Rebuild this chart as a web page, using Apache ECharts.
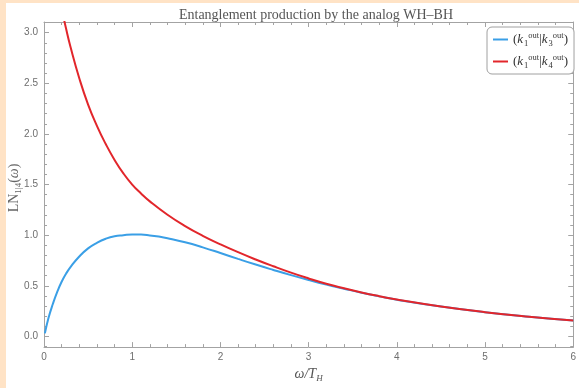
<!DOCTYPE html>
<html>
<head>
<meta charset="utf-8">
<script src="https://cdn.jsdelivr.net/npm/echarts@6/dist/echarts.min.js"></script>
<style>
html,body{margin:0;padding:0;background:#fff;}
#chart{width:579px;height:388px;}
</style>
</head>
<body>
<div id="chart"></div>
<script>
// ---- data ----
const titleText = 'Entanglement production by the analog WH\u2013BH';
const seriesNames = ['(k1|k3)', '(k1|k4)'];
const xTicks = [0, 1, 2, 3, 4, 5, 6];
const yTicks = [0, 0.5, 1, 1.5, 2, 2.5, 3];
const yMinorTicks = [-0.1, 0.1, 0.2, 0.3, 0.4, 0.6, 0.7, 0.8, 0.9, 1.1, 1.2, 1.3, 1.4, 1.6, 1.7, 1.8, 1.9, 2.1, 2.2, 2.3, 2.4, 2.6, 2.7, 2.8, 2.9, 3.1];

const blueX = [0.01, 0.05, 0.1, 0.15, 0.2, 0.25, 0.3, 0.4, 0.5, 0.6, 0.7, 0.8, 0.9, 1.0, 1.1, 1.2, 1.3, 1.4, 1.6, 1.8, 2.0, 2.2, 2.4, 2.6, 2.8, 3.0, 3.2, 3.4, 3.6, 3.8, 4.0, 4.5, 5.0, 5.5, 6.0];
const blueY = [0.03, 0.18, 0.32, 0.44, 0.54, 0.62, 0.685, 0.79, 0.87, 0.925, 0.965, 0.99, 1.000, 1.007, 1.006, 0.998, 0.986, 0.970, 0.930, 0.880, 0.824, 0.766, 0.710, 0.657, 0.606, 0.558, 0.513, 0.472, 0.432, 0.396, 0.363, 0.296, 0.240, 0.195, 0.158];

const redX = [0.2, 0.25, 0.3, 0.4, 0.5, 0.6, 0.7, 0.8, 0.9, 1.0, 1.1, 1.2, 1.4, 1.6, 1.8, 2.0, 2.2, 2.4, 2.6, 2.8, 3.0, 3.2, 3.4, 3.6, 3.8, 4.0, 4.5, 5.0, 5.5, 6.0];
const redY = [3.24, 3.04, 2.86, 2.55, 2.29, 2.08, 1.90, 1.743, 1.61, 1.50, 1.412, 1.334, 1.202, 1.090, 0.994, 0.910, 0.832, 0.760, 0.693, 0.630, 0.573, 0.521, 0.476, 0.435, 0.398, 0.364, 0.296, 0.240, 0.195, 0.158];

// ---- styling ----
const frameColor = '#a3a3a3';
const labelColor = '#6e6e6e';
const blue = '#3a9fe6';
const red = '#e2262b';
const yMin = -0.105, yMax = 3.105;

function pairs(xs, ys) { return xs.map((x, i) => [x, ys[i]]); }

const legendRich = {
  p: { fontFamily: 'Liberation Serif', fontSize: 13, color: '#333', lineHeight: 17, verticalAlign: 'middle' },
  k: { fontFamily: 'Liberation Serif', fontStyle: 'italic', fontSize: 13, color: '#333', lineHeight: 17, verticalAlign: 'middle', padding: [0, 1, 0, 0] },
  sub: { fontFamily: 'Liberation Serif', fontSize: 8.5, color: '#333', lineHeight: 17, verticalAlign: 'bottom' },
  sup: { fontFamily: 'Liberation Serif', fontSize: 8.5, color: '#333', lineHeight: 17, verticalAlign: 'top' }
};

const chart = echarts.init(document.getElementById('chart'), null, { renderer: 'canvas' });

function frameX(pos, showLabel) {
  return {
    type: 'value', position: pos, min: 0, max: 6, interval: 1,
    axisLine: { show: true, onZero: false, lineStyle: { color: frameColor, width: 1 } },
    axisTick: { show: true, inside: true, length: 5, lineStyle: { color: frameColor } },
    minorTick: { show: true, splitNumber: 5, length: 3, lineStyle: { color: frameColor } },
    axisLabel: { show: showLabel, color: labelColor, fontFamily: 'Liberation Sans', fontSize: 10, margin: 5, customValues: xTicks },
    splitLine: { show: false },
    name: showLabel ? '{i|\u03c9/T}{s|H}' : '',
    nameLocation: 'middle', nameGap: 17,
    nameTextStyle: {
      rich: {
        i: { fontFamily: 'Liberation Serif', fontStyle: 'italic', fontSize: 14, color: '#555', lineHeight: 18, verticalAlign: 'middle' },
        s: { fontFamily: 'Liberation Serif', fontStyle: 'italic', fontSize: 9, color: '#555', lineHeight: 18, verticalAlign: 'bottom' }
      }
    }
  };
}
function frameY(pos, showLabel, minor) {
  return {
    type: 'value', position: pos, min: yMin, max: yMax,
    axisLine: { show: !minor, onZero: false, lineStyle: { color: frameColor, width: 1 } },
    axisTick: { show: true, inside: true, length: minor ? 3 : 5, lineStyle: { color: frameColor }, customValues: minor ? yMinorTicks : yTicks },
    axisLabel: { show: showLabel, color: labelColor, fontFamily: 'Liberation Sans', fontSize: 10, margin: 6, customValues: yTicks,
      formatter: v => v.toFixed(1) },
    splitLine: { show: false }
  };
}

chart.setOption({
  backgroundColor: '#ffffff',
  animation: false,
  title: {
    text: titleText, left: 311, top: 3, textAlign: 'center',
    textStyle: { fontFamily: 'Liberation Serif', fontWeight: 'normal', fontSize: 14, color: '#555' }
  },
  grid: { left: 44, right: 1, top: 22, bottom: 36, containLabel: false },
  legend: {
    orient: 'vertical', left: 487, top: 27,
    padding: [4, 6, 4, 6], itemGap: 5,
    backgroundColor: '#fff', borderColor: '#a0a0a0', borderWidth: 1, borderRadius: 5,
    icon: 'rect', itemWidth: 15, itemHeight: 2, itemStyle: { borderWidth: 0 },
    data: seriesNames,
    formatter: name => name === seriesNames[0]
      ? '{p|(}{k|k}{sub|1}{sup|out}{p||}{k|k}{sub|3}{sup|out}{p|)}'
      : '{p|(}{k|k}{sub|1}{sup|out}{p||}{k|k}{sub|4}{sup|out}{p|)}',
    textStyle: { rich: legendRich, padding: [0, 0, 0, 0] }
  },
  xAxis: [frameX('bottom', true), frameX('top', false)],
  yAxis: [frameY('left', true, false), frameY('left', false, true), frameY('right', false, false), frameY('right', false, true)],
  graphic: [
    { type: 'rect', left: 0, top: 0, shape: { width: 6, height: 388 }, style: { fill: '#ffe3c6' }, silent: true },
    { type: 'rect', left: 0, top: 0, shape: { width: 579, height: 3 }, style: { fill: '#ffe3c6' }, silent: true },
    {
      type: 'text', x: 14, y: 188, rotation: Math.PI / 2,
      style: {
        text: '{a|LN}{b|1|4}{a|(}{c|\u03c9}{a|)}',
        align: 'center', verticalAlign: 'middle',
        rich: {
          a: { fontFamily: 'Liberation Serif', fontSize: 14, fill: '#666', lineHeight: 18, verticalAlign: 'middle' },
          b: { fontFamily: 'Liberation Serif', fontSize: 9, fill: '#666', lineHeight: 18, verticalAlign: 'bottom' },
          c: { fontFamily: 'Liberation Serif', fontStyle: 'italic', fontSize: 14, fill: '#666', lineHeight: 18, verticalAlign: 'middle' }
        }
      }
    }
  ],
  series: [
    { name: seriesNames[0], type: 'line', xAxisIndex: 0, yAxisIndex: 0, data: pairs(blueX, blueY),
      smooth: 0.5, showSymbol: false, symbol: 'none', clip: true, color: blue, lineStyle: { width: 2, color: blue }, z: 3 },
    { name: seriesNames[1], type: 'line', xAxisIndex: 0, yAxisIndex: 0, data: pairs(redX, redY),
      smooth: 0.5, showSymbol: false, symbol: 'none', clip: true, color: red, lineStyle: { width: 2, color: red }, z: 4 }
  ]
});
</script>
</body>
</html>
